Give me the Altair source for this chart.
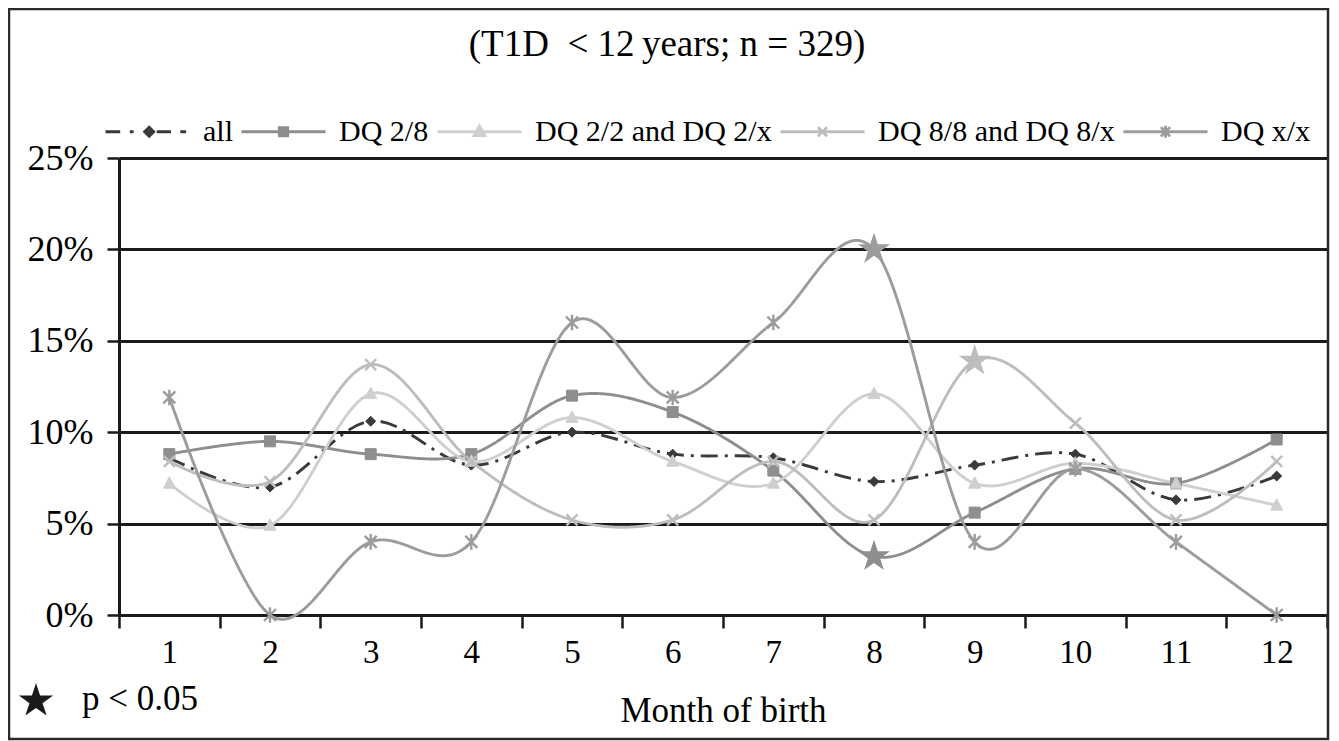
import altair as alt
import pandas as pd

# ---------------- data ----------------
months = list(range(1, 13))
series_names = ["all", "DQ 2/8", "DQ 2/2 and DQ 2/x", "DQ 8/8 and DQ 8/x", "DQ x/x"]

all_pct = [8.6, 7.0, 10.6, 8.2, 10.0, 8.8, 8.6, 7.3, 8.2, 8.8, 6.3, 7.6]
dq28_pct = [8.8, 9.5, 8.8, 8.8, 12.0, 11.1, 7.9, 3.2, 5.6, 8.0, 7.2, 9.6]
dq22_pct = [7.2, 4.9, 12.1, 8.4, 10.8, 8.4, 7.2, 12.1, 7.2, 8.3, 7.2, 6.0]
dq88_pct = [8.4, 7.3, 13.7, 8.4, 5.2, 5.2, 8.4, 5.2, 13.9, 10.5, 5.2, 8.4]
dqxx_pct = [11.9, 0.0, 4.0, 4.0, 16.0, 11.9, 16.0, 20.0, 4.0, 8.0, 4.0, 0.0]

significant = [("DQ 2/8", 8), ("DQ x/x", 8), ("DQ 8/8 and DQ 8/x", 9)]

y_ticks = [0, 5, 10, 15, 20, 25]
title_text = "(T1D\u2002< 12\u2009years; n = 329)"
x_title = "Month of birth"
note_text = "p < 0.05"

# ---------------- styles ----------------
FONT = "Liberation Serif"
line_colors = ["#3a3a3a", "#8e8e8e", "#cfcfcf", "#bdbdbd", "#9c9c9c"]
fill_colors = ["#3a3a3a", "#8e8e8e", "#cfcfcf", "transparent", "transparent"]
dashes = [[17, 7, 3, 7], [1, 0], [1, 0], [1, 0], [1, 0]]

marker_paths = [
    "M0,-1L1,0L0,1L-1,0Z",
    "M-1,-1L1,-1L1,1L-1,1Z",
    "M0,-1.1L1,0.8L-1,0.8Z",
    "M-1,-1L1,1M-1,1L1,-1",
    "M-1,-1L1,1M-1,1L1,-1M0,-1.3L0,1.3",
]
marker_sizes = [100, 121, 144, 121, 144]
legend_paths = [
    "M-1,0L-0.65,0M-0.42,0L-0.33,0M0.22,0L0.56,0M0.78,0L0.92,0M0.04,-0.11L0.15,0L0.04,0.11L-0.07,0Z",
    "M-1,0L1,0M-0.1,-0.1L0.1,-0.1L0.1,0.1L-0.1,0.1Z",
    "M-1,0L1,0M0,-0.14L0.13,0.09L-0.13,0.09Z",
    "M-1,0L1,0M-0.11,-0.11L0.11,0.11M-0.11,0.11L0.11,-0.11",
    "M-1,0L1,0M-0.11,-0.11L0.11,0.11M-0.11,0.11L0.11,-0.11M0,-0.14L0,0.14",
]
STAR = ("M0,-1L0.2245,-0.309L0.951,-0.309L0.363,0.118L0.588,0.809L0,0.382"
        "L-0.588,0.809L-0.363,0.118L-0.951,-0.309L-0.2245,-0.309Z")

# ---------------- table ----------------
values_by_series = [all_pct, dq28_pct, dq22_pct, dq88_pct, dqxx_pct]
rows = []
for name, vals in zip(series_names, values_by_series):
    for m, v in zip(months, vals):
        rows.append({"series": name, "month": m, "value": v,
                     "sig": (name, m) in significant})
df = pd.DataFrame(rows)

W, H = 1208, 457

x_enc = alt.X(
    "month:O",
    scale=alt.Scale(type="band", domain=months, paddingInner=0, paddingOuter=0),
    axis=alt.Axis(
        title=x_title, labelAngle=0, tickBand="extent", ticks=True, tickSize=13,
        tickWidth=2.5, tickColor="#1a1a1a", domainColor="#1a1a1a", domainWidth=3,
        labelFontSize=33, labelPadding=8, titleFontSize=35, titlePadding=24,
        titleFontWeight="normal", labelFont=FONT, titleFont=FONT,
        labelColor="black", titleColor="black", grid=False,
    ),
)
y_enc = alt.Y(
    "value:Q",
    scale=alt.Scale(domain=[0, 25], nice=False),
    axis=alt.Axis(
        title=None, values=y_ticks, labelExpr="datum.value + '%'", grid=True,
        gridColor="#1a1a1a", gridWidth=3, domainColor="#1a1a1a", domainWidth=3,
        tickSize=12, tickWidth=2.5, tickColor="#1a1a1a", labelFontSize=36,
        labelPadding=14, labelFont=FONT, labelColor="black",
    ),
)

base = alt.Chart(df)

line_layers, point_layers, star_layers = [], [], []
for i, name in enumerate(series_names):
    is_filled = fill_colors[i] != "transparent"
    line_layers.append(
        base.transform_filter(alt.datum.series == name).mark_line(
            interpolate="cardinal", tension=0, strokeWidth=2.9,
            color=line_colors[i], strokeDash=dashes[i],
        ).encode(x=x_enc, y=y_enc)
    )
    point_layers.append(
        base.transform_filter((alt.datum.series == name) & (alt.datum.sig == False)).mark_point(
            shape=marker_paths[i], size=marker_sizes[i], opacity=1,
            stroke=line_colors[i], fill=fill_colors[i],
            strokeWidth=1 if is_filled else 2.4,
        ).encode(x=x_enc, y=y_enc)
    )
    star_layers.append(
        base.transform_filter((alt.datum.series == name) & (alt.datum.sig == True)).mark_point(
            shape=STAR, size=1130, filled=True, opacity=1, color=line_colors[i],
        ).encode(x=x_enc, y=y_enc)
    )

leg = alt.Legend(
    title=None, orient="none", legendX=-15, legendY=-70, direction="horizontal",
    columns=5, symbolSize=7056, symbolStrokeWidth=2.8, symbolOpacity=1,
    labelFont=FONT, labelFontSize=30, labelColor="black", labelOffset=12,
    columnPadding=2, labelLimit=500, padding=0,
)
# invisible carrier layer (opacity 0) that only feeds the legend
legend_layer = base.transform_filter(alt.datum.month == 1).mark_point(
    filled=True, opacity=0, strokeWidth=2.8
).encode(
    x=x_enc, y=y_enc,
    stroke=alt.Stroke("series:N", scale=alt.Scale(domain=series_names, range=line_colors), legend=leg),
    fill=alt.Fill("series:N", scale=alt.Scale(domain=series_names, range=fill_colors), legend=leg),
    shape=alt.Shape("series:N", scale=alt.Scale(domain=series_names, range=legend_paths), legend=leg),
)

one = alt.Chart(alt.Data(values=[{"k": 0}]))
title_mark = one.mark_text(font=FONT, fontSize=37, align="center", baseline="middle", color="black").encode(
    x=alt.value(548), y=alt.value(-113), text=alt.value(title_text))
note_star = one.mark_point(shape=STAR, size=1300, filled=True, opacity=1, color="#1a1a1a").encode(
    x=alt.value(-83), y=alt.value(543))
note_text_mark = one.mark_text(font=FONT, fontSize=35, align="left", baseline="middle", color="black").encode(
    x=alt.value(-37), y=alt.value(541), text=alt.value(note_text))
frame = one.mark_rect(fill="transparent", stroke="#2a2a2a", strokeWidth=2.5).encode(
    x=alt.value(-110), x2=alt.value(1209), y=alt.value(-149), y2=alt.value(581))

chart = alt.layer(
    frame, *line_layers, *point_layers, *star_layers, legend_layer,
    title_mark, note_star, note_text_mark
).properties(
    width=W, height=H,
    background="white",
    autosize=alt.AutoSizeParams(type="none"),
    padding={"left": 111, "top": 150, "right": 3, "bottom": 126},
).configure_view(stroke=None).configure_axis(
    labelFont=FONT, titleFont=FONT, labelColor="black", titleColor="black",
    titleFontWeight="normal",
).configure_legend(labelFont=FONT)

chart.save("out.html", embed_options={"renderer": "svg", "actions": False})
